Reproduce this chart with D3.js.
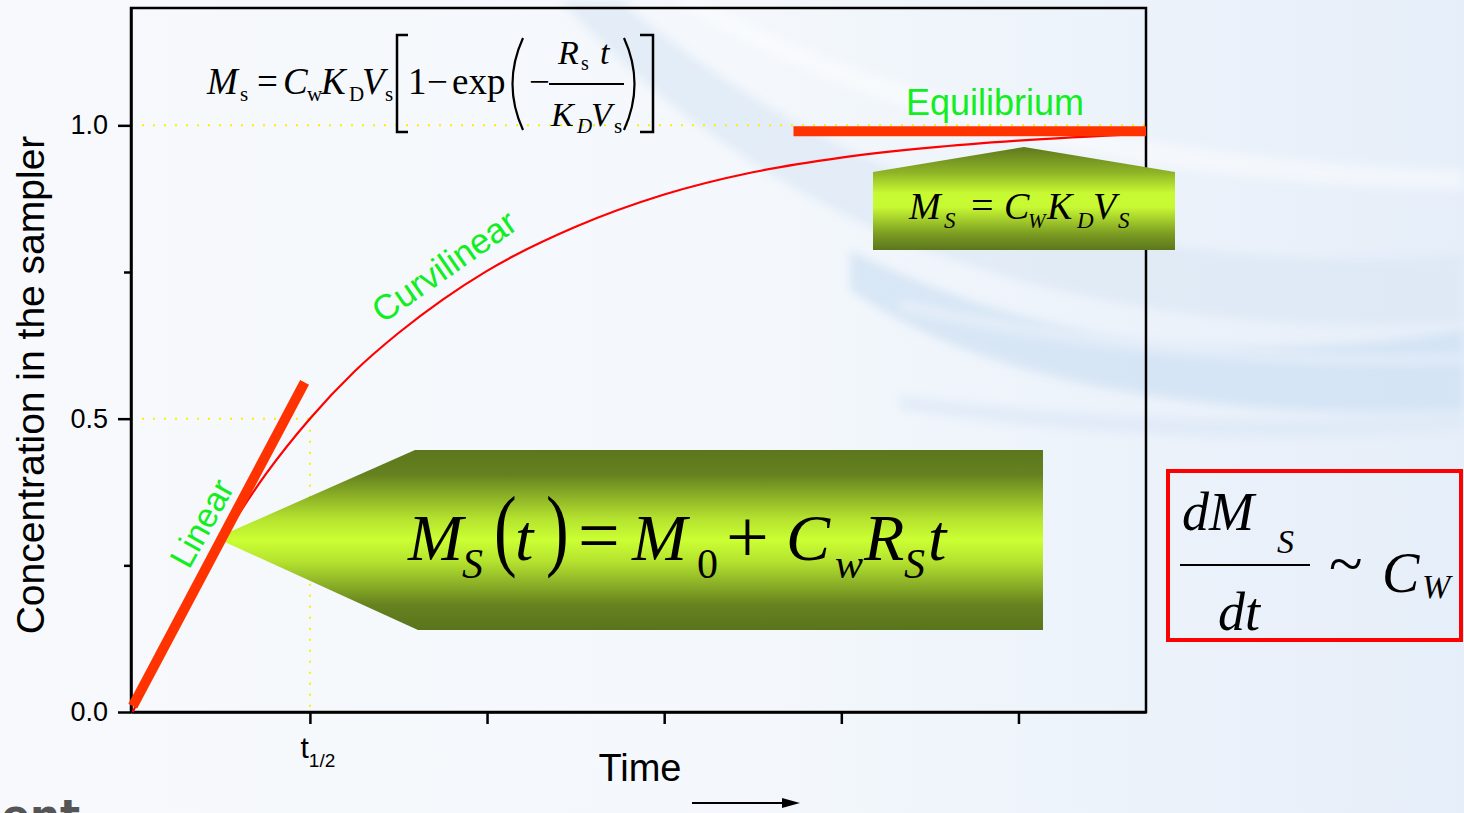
<!DOCTYPE html>
<html>
<head>
<meta charset="utf-8">
<script src="https://cdn.jsdelivr.net/npm/d3@7"></script>
<style>
  html, body { margin: 0; padding: 0; overflow: hidden; background: #f6f9fc; }
  svg { display: block; }
  .tick text { font-family: "Liberation Sans", Arial, sans-serif; }
</style>
</head>
<body>
<div id="chart"></div>
<script>
// values, time in half-lives, concentration as fraction of equilibrium
var curveTime = [0, 0.25, 0.5, 0.75, 1, 1.25, 1.5, 1.75, 2, 2.5, 3, 3.5, 4, 4.5, 5, 5.72];
var curveConc = [0, 0.16, 0.29, 0.405, 0.5, 0.58, 0.646, 0.703, 0.752, 0.827, 0.882, 0.92, 0.945, 0.962, 0.974, 0.986];
var linearTime = [0, 0.97];
var linearConc = [0.01, 0.562];
var equilTime = [3.73, 5.72];
var equilConc = [0.99, 0.99];
var yTicks = [0, 0.5, 1.0];
var yMinorTicks = [0.25, 0.75];
var xTicks = [1, 2, 3, 4, 5];
var xTickLabels = ["t", "", "", "", ""];
var halfLife = 1;

var W = 1464, H = 813;
var margin = { top: 8, right: 318, bottom: 101, left: 131 };

var svg = d3.select("#chart").append("svg")
    .attr("width", W)
    .attr("height", H);

var defs = svg.append("defs");

var bgGrad = defs.append("linearGradient").attr("id", "bg").attr("x1", 0).attr("x2", 1).attr("y1", 0).attr("y2", 0);
bgGrad.append("stop").attr("offset", "0%").attr("stop-color", "#f7f9fc");
bgGrad.append("stop").attr("offset", "50%").attr("stop-color", "#f4f8fc");
bgGrad.append("stop").attr("offset", "100%").attr("stop-color", "#e6eef9");

var greenGrad = defs.append("linearGradient").attr("id", "green").attr("x1", 0).attr("x2", 0).attr("y1", 0).attr("y2", 1);
[["0%", "#5c761d"], ["14%", "#66821f"], ["38%", "#b4e22f"], ["50%", "#ccff33"], ["62%", "#b4e22f"], ["86%", "#66821f"], ["100%", "#5a741c"]]
    .forEach(function(s) { greenGrad.append("stop").attr("offset", s[0]).attr("stop-color", s[1]); });

var greenGrad2 = defs.append("linearGradient").attr("id", "green2").attr("x1", 0).attr("x2", 0).attr("y1", 0).attr("y2", 1);
[["0%", "#5e781d"], ["25%", "#8fb526"], ["45%", "#c8fa33"], ["58%", "#c8fa33"], ["85%", "#7a9a22"], ["100%", "#5c761d"]]
    .forEach(function(s) { greenGrad2.append("stop").attr("offset", s[0]).attr("stop-color", s[1]); });

defs.append("filter").attr("id", "blur").append("feGaussianBlur").attr("stdDeviation", 5);

// background
svg.append("rect").attr("width", W).attr("height", H).attr("fill", "url(#bg)");
var waves = svg.append("g").attr("filter", "url(#blur)");
var waveShapes = [
    ["M620,0 C800,150 1050,280 1464,255 L1464,322 C1050,345 760,220 560,0 Z", "#dae7f5", 0.65],
    ["M700,0 C880,100 1150,160 1464,170 L1464,190 C1150,185 870,125 675,0 Z", "#ffffff", 0.45],
    ["M850,250 C1050,350 1250,365 1464,330 L1464,410 C1250,420 1000,395 850,290 Z", "#cbdef2", 0.65],
    ["M900,300 C1100,345 1300,360 1464,355 L1464,362 C1300,368 1100,355 900,310 Z", "#eef4fb", 0.6],
    ["M900,395 C1100,420 1300,425 1464,412 L1464,430 C1300,445 1100,440 900,410 Z", "#dde8f6", 0.7]
];
waveShapes.forEach(function(w) {
    waves.append("path").attr("d", w[0]).attr("fill", w[1]).attr("opacity", w[2]);
});

var width = W - margin.left - margin.right;
var height = H - margin.top - margin.bottom;

var x = d3.scaleLinear().domain([-0.01, 5.72]).range([margin.left, margin.left + width]);
var y = d3.scaleLinear().domain([0, 1.2]).range([margin.top + height, margin.top]);

// dotted guides
var guides = svg.append("g")
    .attr("stroke", "#ffee00")
    .attr("stroke-width", 2)
    .attr("stroke-dasharray", "2,9")
    .attr("fill", "none");
guides.append("line").attr("x1", x(-0.01)).attr("x2", x(5.72)).attr("y1", y(1)).attr("y2", y(1));
guides.append("line").attr("x1", x(-0.01)).attr("x2", x(halfLife)).attr("y1", y(0.5)).attr("y2", y(0.5));
guides.append("line").attr("x1", x(halfLife)).attr("x2", x(halfLife)).attr("y1", y(0.5)).attr("y2", y(0));

// axes
var yAxis = d3.axisLeft(y).tickValues(yTicks).tickFormat(d3.format(".1f")).tickSize(13).tickPadding(10).tickSizeOuter(0);
var yAxisG = svg.append("g").attr("transform", "translate(" + margin.left + ",0)").call(yAxis);
yAxisG.selectAll(".tick text").attr("font-size", 27).attr("fill", "#000");

var yMinor = d3.axisLeft(y).tickValues(yMinorTicks).tickFormat("").tickSize(7).tickSizeOuter(0);
svg.append("g").attr("transform", "translate(" + margin.left + ",0)").call(yMinor)
    .select(".domain").remove();

var xAxis = d3.axisBottom(x).tickValues(xTicks).tickFormat(function(d, i) { return xTickLabels[i]; })
    .tickSize(12).tickPadding(13).tickSizeOuter(0);
var xAxisG = svg.append("g").attr("transform", "translate(0," + (margin.top + height) + ")").call(xAxis);
xAxisG.selectAll(".tick text")
    .attr("font-size", 30).attr("fill", "#000").attr("text-anchor", "start").attr("dx", "-0.33em")
    .filter(function(d, i) { return i === 0; })
    .append("tspan").attr("font-size", 19).attr("dy", "0.45em").text("1/2");

svg.selectAll(".domain, .tick line").attr("stroke", "#000").attr("stroke-width", 2.5);

// frame
svg.append("rect")
    .attr("x", margin.left).attr("y", margin.top)
    .attr("width", width).attr("height", height)
    .attr("fill", "none").attr("stroke", "#000").attr("stroke-width", 2.5);

// uptake curve
var curveData = curveTime.map(function(t, i) { return { t: t, c: curveConc[i] }; });
var line = d3.line().x(function(d) { return x(d.t); }).y(function(d) { return y(d.c); }).curve(d3.curveMonotoneX);
svg.append("path").datum(curveData)
    .attr("d", line)
    .attr("fill", "none").attr("stroke", "#ff0000").attr("stroke-width", 2.2);

// callouts
svg.append("path")
    .attr("d", "M" + [[216, 538], [415, 450], [1043, 450], [1043, 630], [418, 630]].join("L") + "Z")
    .attr("fill", "url(#green)");
svg.append("path")
    .attr("d", "M" + [[873, 172], [1024, 147], [1175, 172], [1175, 250], [873, 250]].join("L") + "Z")
    .attr("fill", "url(#green2)");

// thick linear and equilibrium segments
var linData = linearTime.map(function(t, i) { return { t: t, c: linearConc[i] }; });
var eqData = equilTime.map(function(t, i) { return { t: t, c: equilConc[i] }; });
var straight = d3.line().x(function(d) { return x(d.t); }).y(function(d) { return y(d.c); });
svg.append("path").datum(linData).attr("d", straight)
    .attr("stroke", "#ff3300").attr("stroke-width", 10).attr("fill", "none");
svg.append("path").datum(eqData).attr("d", straight)
    .attr("stroke", "#ff3300").attr("stroke-width", 10).attr("fill", "none");

// formulas
var serif = "'Liberation Serif', 'Times New Roman', serif";
function put(g, txt, px, py, size, italic) {
    return g.append("text").attr("x", px).attr("y", py)
        .attr("font-size", size).attr("font-style", italic ? "italic" : "normal")
        .text(txt);
}
function tall(g, txt, px, py, size, sy) {
    return g.append("text").attr("transform", "translate(" + px + "," + py + ") scale(1," + sy + ")")
        .attr("font-size", size).text(txt);
}
var f1 = svg.append("g").attr("font-family", serif).attr("fill", "#000");
put(f1, "M", 207, 94, 37, true);
put(f1, "s", 240, 101, 21, false);
put(f1, "=", 257, 94, 37, false);
put(f1, "C", 283, 94, 37, true);
put(f1, "w", 307, 101, 21, false);
put(f1, "K", 321, 94, 37, true);
put(f1, "D", 349, 101, 21, false);
put(f1, "V", 362, 94, 37, true);
put(f1, "s", 385, 101, 21, false);
put(f1, "1", 408, 94, 37, false);
put(f1, "\u2212", 427, 94, 37, false);
put(f1, "exp", 452, 94, 37, false);
put(f1, "\u2212", 529, 94, 37, false);
put(f1, "R", 558, 64, 34, true);
put(f1, "s", 581, 70, 20, false);
put(f1, "t", 600, 64, 34, true);
put(f1, "K", 551, 126, 34, true);
put(f1, "D", 577, 133, 21, true);
put(f1, "V", 591, 126, 34, true);
put(f1, "s", 614, 133, 21, false);
f1.append("line").attr("x1", 549).attr("x2", 624).attr("y1", 84).attr("y2", 84).attr("stroke", "#000").attr("stroke-width", 1.8);
f1.append("path").attr("d", "M408,35H397V132H408").attr("fill", "none").attr("stroke", "#000").attr("stroke-width", 2.5);
f1.append("path").attr("d", "M640,35H653V132H640").attr("fill", "none").attr("stroke", "#000").attr("stroke-width", 2.5);
f1.append("path").attr("d", "M523,38Q502,84 523,130").attr("fill", "none").attr("stroke", "#000").attr("stroke-width", 2.2);
f1.append("path").attr("d", "M624,38Q645,84 624,130").attr("fill", "none").attr("stroke", "#000").attr("stroke-width", 2.2);

var f2 = svg.append("g").attr("font-family", serif).attr("fill", "#000");
put(f2, "M", 408, 560, 66, true);
put(f2, "S", 462, 578, 42, true);
tall(f2, "(", 494, 559, 68, 1.35);
put(f2, "t", 515, 560, 66, true);
tall(f2, ")", 546, 559, 68, 1.35);
put(f2, "=", 578, 560, 74, false);
put(f2, "M", 632, 560, 66, true);
put(f2, "0", 697, 578, 42, false);
put(f2, "+", 726, 562, 76, false);
put(f2, "C", 786, 560, 66, true);
put(f2, "w", 835, 578, 42, true);
put(f2, "R", 864, 560, 66, true);
put(f2, "S", 904, 578, 42, true);
put(f2, "t", 928, 560, 66, true);

var f3 = svg.append("g").attr("font-family", serif).attr("fill", "#000");
put(f3, "M", 909, 219, 38, true);
put(f3, "S", 944, 228, 23, true);
put(f3, "=", 971, 219, 40, false);
put(f3, "C", 1004, 219, 38, true);
put(f3, "W", 1028, 228, 21, true);
put(f3, "K", 1047, 219, 38, true);
put(f3, "D", 1077, 228, 23, true);
put(f3, "V", 1093, 219, 38, true);
put(f3, "S", 1118, 228, 23, true);

// rate box
svg.append("rect").attr("x", 1168).attr("y", 471).attr("width", 293).attr("height", 169)
    .attr("fill", "none").attr("stroke", "#ff0000").attr("stroke-width", 4);
var f4 = svg.append("g").attr("font-family", serif).attr("fill", "#000");
put(f4, "dM", 1182, 530, 54, true);
put(f4, "S", 1277, 553, 34, true);
f4.append("line").attr("x1", 1180).attr("x2", 1310).attr("y1", 565).attr("y2", 565).attr("stroke", "#000").attr("stroke-width", 2);
put(f4, "dt", 1218, 630, 54, true);
put(f4, "~", 1329, 584, 62, false);
put(f4, "C", 1382, 592, 56, true);
put(f4, "W", 1422, 598, 34, true);

// labels
var sans = "'Liberation Sans', Arial, sans-serif";
svg.append("text")
    .attr("transform", "translate(44,385) rotate(-90)")
    .attr("text-anchor", "middle").attr("font-family", sans).attr("font-size", 39).attr("fill", "#000")
    .text("Concentration in the sampler");
svg.append("text")
    .attr("x", 640).attr("y", 781).attr("text-anchor", "middle")
    .attr("font-family", sans).attr("font-size", 38).attr("fill", "#000")
    .text("Time");
svg.append("line").attr("x1", 692).attr("x2", 784).attr("y1", 803).attr("y2", 803).attr("stroke", "#000").attr("stroke-width", 2);
svg.append("path").attr("d", "M782,798L800,803L782,808Z").attr("fill", "#000");

var green = "#11ee22";
svg.append("text")
    .attr("transform", "translate(212,529) rotate(-61)")
    .attr("text-anchor", "middle").attr("font-family", sans).attr("font-size", 34).attr("fill", green)
    .text("Linear");
svg.append("text")
    .attr("transform", "translate(451,276) rotate(-35)")
    .attr("text-anchor", "middle").attr("font-family", sans).attr("font-size", 35).attr("fill", green)
    .text("Curvilinear");
svg.append("text")
    .attr("x", 995).attr("y", 115).attr("text-anchor", "middle")
    .attr("font-family", sans).attr("font-size", 36).attr("fill", green)
    .text("Equilibrium");

// slide text cut off at the bottom
svg.append("text")
    .attr("x", 80).attr("y", 830).attr("text-anchor", "end")
    .attr("font-family", "'DejaVu Sans', sans-serif").attr("font-weight", "bold").attr("font-size", 42).attr("fill", "#555")
    .text("sent");
</script>
</body>
</html>
